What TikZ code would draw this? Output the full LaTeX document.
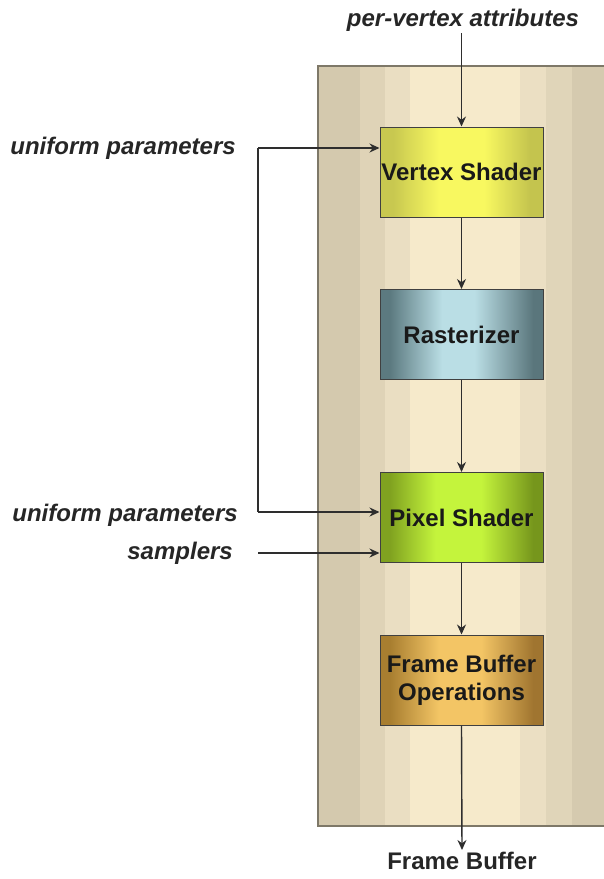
\documentclass[tikz,border=0pt]{standalone}
\usepackage{fontspec}
\setmainfont{Liberation Sans}
\usetikzlibrary{arrows.meta}

% panel stripe colours
\definecolor{pA}{HTML}{D4C9AE}
\definecolor{pB}{HTML}{DFD3B7}
\definecolor{pC}{HTML}{EADEC2}
\definecolor{pD}{HTML}{F6EACB}
\definecolor{pE}{HTML}{EBDFC3}
\definecolor{pF}{HTML}{E0D5B9}
\definecolor{pG}{HTML}{D5CAAF}
\definecolor{edge}{HTML}{7E7868}
\definecolor{wire}{HTML}{2E2E2E}

% stage fills: edge and centre tones
\definecolor{vsL}{RGB}{200,200,80}
\definecolor{vsM}{RGB}{248,248,96}
\definecolor{vsR}{RGB}{196,196,78}
\definecolor{raL}{RGB}{92,122,128}
\definecolor{raM}{RGB}{186,222,229}
\definecolor{raR}{RGB}{90,118,124}
\definecolor{psL}{RGB}{128,162,32}
\definecolor{psM}{RGB}{196,244,60}
\definecolor{psR}{RGB}{118,150,28}
\definecolor{foL}{RGB}{168,126,48}
\definecolor{foM}{RGB}{243,197,101}
\definecolor{foR}{RGB}{160,117,48}

% horizontal shadings with a broad light centre (path spans 25bp..75bp)
\pgfdeclarehorizontalshading{vsfill}{100bp}{color(0bp)=(vsL); color(25bp)=(vsL);
  color(29bp)=(vsL); color(43bp)=(vsM); color(57bp)=(vsM); color(71bp)=(vsR);
  color(75bp)=(vsR); color(100bp)=(vsR)}
\pgfdeclarehorizontalshading{rafill}{100bp}{color(0bp)=(raL); color(25bp)=(raL);
  color(28bp)=(raL); color(44bp)=(raM); color(54bp)=(raM); color(72bp)=(raR);
  color(75bp)=(raR); color(100bp)=(raR)}
\pgfdeclarehorizontalshading{psfill}{100bp}{color(0bp)=(psL); color(25bp)=(psL);
  color(28bp)=(psL); color(42bp)=(psM); color(56bp)=(psM); color(72bp)=(psR);
  color(75bp)=(psR); color(100bp)=(psR)}
\pgfdeclarehorizontalshading{fofill}{100bp}{color(0bp)=(foL); color(25bp)=(foL);
  color(28bp)=(foL); color(43bp)=(foM); color(56bp)=(foM); color(72bp)=(foR);
  color(75bp)=(foR); color(100bp)=(foR)}

\tikzset{
  stage/.style={draw=black!75, line width=1pt, minimum width=163pt,
    minimum height=90pt, inner sep=0pt, align=center,
    font=\fontsize{24}{28}\selectfont\bfseries, text=black!90},
  label/.style={font=\fontsize{24}{28}\selectfont\bfseries\itshape,
    text=black!85, inner sep=2pt},
  arr/.style={draw=wire, line width=1.4pt, -{Stealth[length=10pt,width=9pt]}},
  wireline/.style={draw=wire, line width=1.4pt},
}

\begin{document}
\begin{tikzpicture}[x=1pt, y=-1pt]
\useasboundingbox (0,0) rectangle (604,879);

% striped pipeline panel
\fill[pA] (318,66) rectangle (360,826);
\fill[pB] (360,66) rectangle (385,826);
\fill[pC] (385,66) rectangle (410,826);
\fill[pD] (410,66) rectangle (520,826);
\fill[pE] (520,66) rectangle (546,826);
\fill[pF] (546,66) rectangle (572,826);
\fill[pG] (572,66) rectangle (604,826);
\draw[edge, line width=1.6pt] (604,66) -- (318,66) -- (318,826) -- (604,826);

% pipeline stages
\node[stage, shading=vsfill] (vs) at (461.5,172) {Vertex Shader};
\node[stage, shading=rafill] (ra) at (461.5,334.5) {Rasterizer};
\node[stage, shading=psfill] (ps) at (461.5,517.5) {Pixel Shader};
\node[stage, shading=fofill] (fbo) at (461.5,680) {Frame Buffer\\Operations};

% inputs and output
\node[label] (pv) at (463,20) {per-vertex attributes};
\node[label, anchor=east] (ua) at (238,148) {uniform parameters};
\node[label, anchor=east] (ub) at (240,515) {uniform parameters};
\node[label, anchor=east] (sa) at (235,553) {samplers};
\node[font=\fontsize{24}{28}\selectfont\bfseries, text=black!85,
  anchor=north, inner sep=2pt] (fb) at (462,850) {Frame Buffer};

\coordinate (ut) at (258,148);
\coordinate (ubend) at (258,512);
\coordinate (st) at (258,553);

% connectors
\draw[arr] (pv.south -| vs.north) -- (vs.north);
\draw[arr] (vs.south) -- (ra.north);
\draw[arr] (ra.south) -- (ps.north);
\draw[arr] (ps.south) -- (fbo.north);
\draw[arr] (fbo.south) -- (fb.north);
\draw[arr] (ut) -- (ut -| vs.west);
\draw[wireline] (ut) -- (ubend);
\draw[arr] (ubend) -- (ubend -| ps.west);
\draw[arr] (st) -- (st -| ps.west);
\end{tikzpicture}
\end{document}
